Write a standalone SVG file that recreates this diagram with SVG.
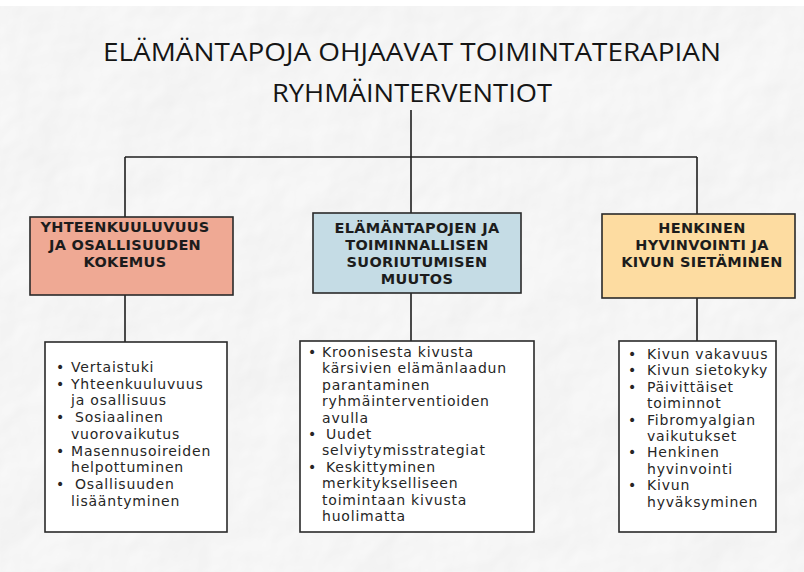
<svg xmlns="http://www.w3.org/2000/svg" width="804" height="572" viewBox="0 0 804 572">
  <defs>
    <filter id="paper" x="0" y="0" width="100%" height="100%" color-interpolation-filters="sRGB">
      <feTurbulence type="fractalNoise" baseFrequency="0.011" numOctaves="4" seed="7" result="n"/>
      <feDiffuseLighting in="n" lighting-color="#ffffff" surfaceScale="3.5" result="l">
        <feDistantLight azimuth="225" elevation="50"/>
      </feDiffuseLighting>
      <feComponentTransfer>
        <feFuncR type="linear" slope="0.16" intercept="0.84"/>
        <feFuncG type="linear" slope="0.16" intercept="0.84"/>
        <feFuncB type="linear" slope="0.16" intercept="0.84"/>
      </feComponentTransfer>
    </filter>
    <style>
      .title { font-family: "Open Sans", "Liberation Sans", sans-serif; font-size: 26px; fill: #151515; text-anchor: middle; }
      .head { font-family: "DejaVu Sans", "Liberation Sans", sans-serif; font-weight: bold; font-size: 14.5px; letter-spacing: 0.3px; fill: #1c1c1c; text-anchor: middle; }
      .item { font-family: "DejaVu Sans", "Liberation Sans", sans-serif; font-size: 14px; fill: #262626; letter-spacing: 0.8px; }
      .box { stroke: #2a2a2a; stroke-width: 1.6; }
      .list { fill: #ffffff; stroke: #2a2a2a; stroke-width: 1.6; }
      .conn { stroke: #1e1e1e; stroke-width: 1.6; fill: none; }
    </style>
  </defs>

  <rect x="0" y="0" width="804" height="572" fill="#f0f0f0"/>
  <rect x="0" y="0" width="804" height="572" filter="url(#paper)"/>
  <rect x="0" y="0" width="804" height="6" fill="#ffffff"/>

  <g id="title">
    <text class="title" x="412" y="61" textLength="618" lengthAdjust="spacingAndGlyphs">ELÄMÄNTAPOJA OHJAAVAT TOIMINTATERAPIAN</text>
    <text class="title" x="412" y="102" textLength="280" lengthAdjust="spacingAndGlyphs">RYHMÄINTERVENTIOT</text>
  </g>

  <g id="connectors">
    <line class="conn" x1="411" y1="110" x2="411" y2="157"/>
    <line class="conn" x1="125" y1="157" x2="697" y2="157"/>
    <line class="conn" x1="125" y1="157" x2="125" y2="217"/>
    <line class="conn" x1="411" y1="157" x2="411" y2="213"/>
    <line class="conn" x1="697" y1="157" x2="697" y2="214"/>
    <line class="conn" x1="125" y1="295" x2="125" y2="342"/>
    <line class="conn" x1="411" y1="293" x2="411" y2="341"/>
    <line class="conn" x1="697" y1="298" x2="697" y2="341"/>
  </g>

  <g id="node-yhteenkuuluvuus">
    <rect class="box" x="30" y="217" width="203" height="78" fill="#efa994"/>
    <text class="head"><tspan x="125" y="232">YHTEENKUULUVUUS</tspan><tspan x="125" y="249.5">JA OSALLISUUDEN</tspan><tspan x="125" y="267">KOKEMUS</tspan></text>
  </g>

  <g id="node-elamantapojen">
    <rect class="box" x="313" y="213" width="208" height="80" fill="#c5dce5"/>
    <text class="head"><tspan x="417" y="233">ELÄMÄNTAPOJEN JA</tspan><tspan x="417" y="250">TOIMINNALLISEN</tspan><tspan x="417" y="267">SUORIUTUMISEN</tspan><tspan x="417" y="284">MUUTOS</tspan></text>
  </g>

  <g id="node-henkinen">
    <rect class="box" x="602" y="214" width="193" height="84" fill="#fddca1"/>
    <text class="head"><tspan x="702" y="233">HENKINEN</tspan><tspan x="702" y="250">HYVINVOINTI JA</tspan><tspan x="702" y="267">KIVUN SIETÄMINEN</tspan></text>
  </g>

  <g id="list-yhteenkuuluvuus">
    <rect class="list" x="45" y="342" width="182" height="190"/>
    <text class="item"><tspan x="56" y="372">•</tspan><tspan x="71" y="372">Vertaistuki</tspan><tspan x="56" y="388.7">•</tspan><tspan x="71" y="388.7">Yhteenkuuluvuus</tspan><tspan x="71" y="405.4">ja osallisuus</tspan><tspan x="56" y="422.1">•</tspan><tspan x="75" y="422.1">Sosiaalinen</tspan><tspan x="71" y="438.8">vuorovaikutus</tspan><tspan x="56" y="455.5">•</tspan><tspan x="71" y="455.5">Masennusoireiden</tspan><tspan x="71" y="472.2">helpottuminen</tspan><tspan x="56" y="488.9">•</tspan><tspan x="75" y="488.9">Osallisuuden</tspan><tspan x="71" y="505.6">lisääntyminen</tspan></text>
  </g>

  <g id="list-elamantapojen">
    <rect class="list" x="300" y="341" width="234" height="191"/>
    <text class="item"><tspan x="308" y="357">•</tspan><tspan x="322" y="357">Kroonisesta kivusta</tspan><tspan x="322" y="373.4">kärsivien elämänlaadun</tspan><tspan x="322" y="389.8">parantaminen</tspan><tspan x="322" y="406.2">ryhmäinterventioiden</tspan><tspan x="322" y="422.6">avulla</tspan><tspan x="308" y="439">•</tspan><tspan x="326" y="439">Uudet</tspan><tspan x="322" y="455.4">selviytymisstrategiat</tspan><tspan x="308" y="471.8">•</tspan><tspan x="326" y="471.8">Keskittyminen</tspan><tspan x="322" y="488.2">merkitykselliseen</tspan><tspan x="322" y="504.6">toimintaan kivusta</tspan><tspan x="322" y="521">huolimatta</tspan></text>
  </g>

  <g id="list-henkinen">
    <rect class="list" x="619" y="341" width="157" height="191"/>
    <text class="item"><tspan x="628" y="359">•</tspan><tspan x="647" y="359">Kivun vakavuus</tspan><tspan x="628" y="375.4">•</tspan><tspan x="647" y="375.4">Kivun sietokyky</tspan><tspan x="628" y="391.8">•</tspan><tspan x="647" y="391.8">Päivittäiset</tspan><tspan x="647" y="408.2">toiminnot</tspan><tspan x="628" y="424.6">•</tspan><tspan x="647" y="424.6">Fibromyalgian</tspan><tspan x="647" y="441">vaikutukset</tspan><tspan x="628" y="457.4">•</tspan><tspan x="647" y="457.4">Henkinen</tspan><tspan x="647" y="473.8">hyvinvointi</tspan><tspan x="628" y="490.2">•</tspan><tspan x="647" y="490.2">Kivun</tspan><tspan x="647" y="506.6">hyväksyminen</tspan></text>
  </g>
</svg>
